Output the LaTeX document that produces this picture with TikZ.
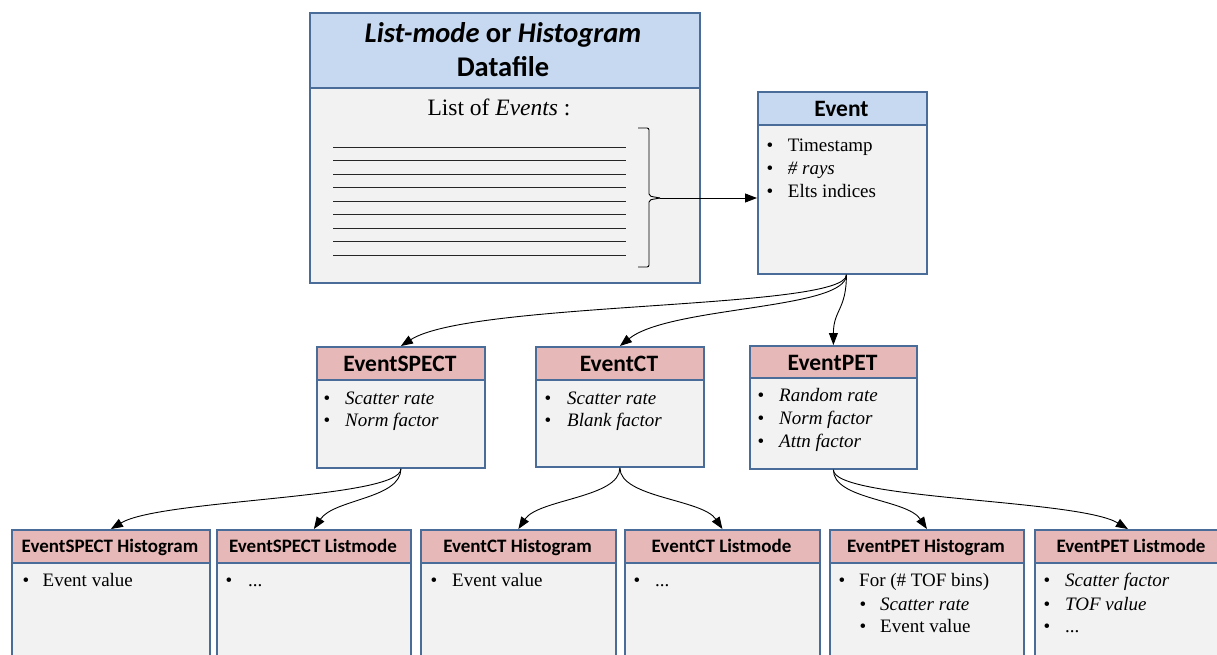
\documentclass[tikz,border=0pt]{standalone}
\usepackage{fontspec}
\setmainfont{Liberation Serif}
\newfontfamily\hdrfont{Carlito}
\usetikzlibrary{arrows.meta}
\definecolor{bordc}{HTML}{4A6C98}
\definecolor{bluec}{HTML}{C6D9F0}
\definecolor{pinkc}{HTML}{E6B8B7}
\definecolor{bodyc}{HTML}{F2F2F2}
\tikzset{
 bodybox/.style={draw=bordc, line width=1.8pt, fill=bodyc, anchor=north west, inner sep=0pt},
 hdrbox/.style={draw=bordc, line width=1.8pt, anchor=north west, inner sep=0pt},
 htxt/.style={font=\hdrfont\bfseries\fontsize{23.5}{26}\selectfont, anchor=base, inner sep=0pt},
 hstxt/.style={font=\hdrfont\bfseries\fontsize{19}{22}\selectfont, anchor=base, inner sep=0pt},
 dtxt/.style={font=\hdrfont\bfseries\fontsize{28.5}{30}\selectfont, anchor=base, inner sep=0pt},
 stxt/.style={font=\fontsize{19}{22}\selectfont, inner sep=0pt},
 ltxt/.style={font=\fontsize{23.5}{27}\selectfont, anchor=base, inner sep=0pt},
 arr/.style={-{Triangle[length=12pt,width=9pt]}, line width=0.9pt, black},
 rule/.style={line width=0.8pt, black!85},
}
\newcommand\mkbox[7]{%
 \node[bodybox, minimum width=#4pt, minimum height=#5pt] (#1) at (#2,#3) {};
 \node[hdrbox, fill=#7, minimum width=#4pt, minimum height=#6pt] (#1h) at (#2,#3) {};
}
\newcommand\bitem[5]{%
 \node[stxt,anchor=base] (#1b) at (#2,#4) {•};
 \node[stxt,anchor=base west] (#1) at (#3,#4) {#5};
}
\begin{document}
\begin{tikzpicture}[x=1pt,y=-1pt]
\useasboundingbox (0,0) rectangle (1217,654);
% boxes
\mkbox{data}{309}{12}{390}{270}{75}{bluec}
\mkbox{evt}{757}{91}{169}{182}{33}{bluec}
\mkbox{spect}{316}{346}{168}{121}{33}{pinkc}
\mkbox{ct}{535}{346}{168}{120}{33}{pinkc}
\mkbox{pet}{749}{345}{167}{123}{32}{pinkc}
\mkbox{ba}{11}{529}{198}{150}{33}{pinkc}
\mkbox{bb}{216}{529}{194}{150}{33}{pinkc}
\mkbox{bc}{420}{529}{195}{150}{33}{pinkc}
\mkbox{bd}{624}{529}{195}{150}{33}{pinkc}
\mkbox{be}{829}{529}{194}{150}{33}{pinkc}
\mkbox{bf}{1034}{529}{194}{150}{33}{pinkc}
% datafile
\node[dtxt] (t1) at (503,42.7) {\itshape List-mode\upshape{} or \itshape Histogram};
\node[dtxt] (t2) at (503,76.7) {Datafile};
\node[ltxt] (lst) at (499,115.7) {List of \textit{Events} :};
\foreach \i in {0,...,8} {\draw[rule] (333,147+13.5*\i) -- (626,147+13.5*\i);}
\coordinate (bt) at (660,198);
\draw[line width=0.9pt, rounded corners=2pt] (638,128) -- (649,128) -- (649,196) -- (bt);
\draw[line width=0.9pt, rounded corners=2pt] (638,267) -- (649,267) -- (649,200) -- (bt);
\draw[arr] (bt) -- (bt -| evt.west);
% headers
\node[htxt] (evtt) at (841.5,116.7) {Event};
\node[htxt] (spectt) at (400,371.7) {EventSPECT};
\node[htxt] (ctt) at (619,371.7) {EventCT};
\node[htxt] (pett) at (832.5,370) {EventPET};
\node[hstxt] (bat) at (110,552.3) {EventSPECT Histogram};
\node[hstxt] (bbt) at (313,552.3) {EventSPECT Listmode};
\node[hstxt] (bct) at (517.5,552.3) {EventCT Histogram};
\node[hstxt] (bdt) at (721.5,552.3) {EventCT Listmode};
\node[hstxt] (bet) at (926,552.3) {EventPET Histogram};
\node[hstxt] (bft) at (1131,552.3) {EventPET Listmode};
% items
\bitem{e1}{770}{787.7}{151}{Timestamp}
\bitem{e2}{770}{787.7}{174.3}{\textit{\# rays}}
\bitem{e3}{770}{787.7}{197.3}{Elts indices}
\bitem{s1}{327}{345}{404}{\textit{Scatter rate}}
\bitem{s2}{327}{345}{426.7}{\textit{Norm factor}}
\bitem{c1}{548}{567}{404}{\textit{Scatter rate}}
\bitem{c2}{548}{567}{426.7}{\textit{Blank factor}}
\bitem{p1}{761}{779}{401.7}{\textit{Random rate}}
\bitem{p2}{761}{779}{424.3}{\textit{Norm factor}}
\bitem{p3}{761}{779}{447.3}{\textit{Attn factor}}
\bitem{a1}{26}{42.5}{586.7}{Event value}
\bitem{b1}{229}{248}{586.7}{...}
\bitem{c3}{434}{452}{586.7}{Event value}
\bitem{d1}{637}{655}{586.7}{...}
\bitem{f1}{842}{859}{586.7}{For (\# TOF bins)}
\bitem{f2}{863}{880}{610}{\textit{Scatter rate}}
\bitem{f3}{863}{880}{632.7}{Event value}
\bitem{g1}{1047}{1065}{586.7}{\textit{Scatter factor}}
\bitem{g2}{1047}{1065}{610}{\textit{TOF value}}
\bitem{g3}{1047}{1065}{632.7}{...}
% connectors
\draw[arr] ([xshift=4pt]evt.south) .. controls +(0,35) and +(70,-45) .. (specth.north);
\draw[arr] ([xshift=4pt]evt.south) .. controls +(0,35) and +(50,-40) .. (cth.north);
\draw[arr] ([xshift=4pt]evt.south) .. controls +(0,35) and +(0,-35) .. (peth.north);
\draw[arr] (spect.south) .. controls +(0,30) and +(50,-30) .. (bah.north);
\draw[arr] (spect.south) .. controls +(0,30) and +(20,-30) .. (bbh.north);
\draw[arr] (ct.south) .. controls +(0,30) and +(20,-30) .. (bch.north);
\draw[arr] (ct.south) .. controls +(0,30) and +(-20,-30) .. (bdh.north);
\draw[arr] (pet.south) .. controls +(0,30) and +(-20,-30) .. (beh.north);
\draw[arr] (pet.south) .. controls +(0,30) and +(-50,-30) .. ([xshift=-4pt]bfh.north);
\end{tikzpicture}
\end{document}
